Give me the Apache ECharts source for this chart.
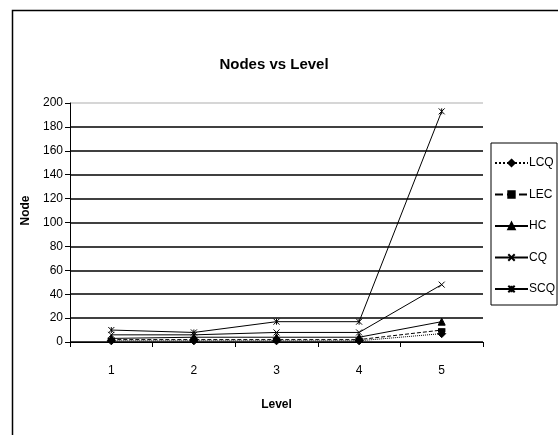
<!DOCTYPE html>
<html>
<head>
<meta charset="utf-8">
<script src="https://cdn.jsdelivr.net/npm/echarts@6/dist/echarts.min.js"></script>
<style>
  html, body { margin: 0; padding: 0; background: #fff; }
  #chart { width: 558px; height: 435px; }
</style>
</head>
<body>
<div id="chart"></div>
<script>
const levels = ['1', '2', '3', '4', '5'];
const lcq = [1, 1, 1, 1, 7];
const lec = [2, 2, 2, 2, 10];
const hc = [3, 4, 4, 4, 17];
const cq = [6, 6, 8, 8, 48];
const scq = [10, 8, 17, 17, 193];

const font = '"Liberation Sans", Arial, sans-serif';
const crossPath = 'path://M0,0L10,10M10,0L0,10';
const starPath = 'path://M0,0L10,10M10,0L0,10M5,0L5,10';

function mkSeries(name, data, symbol, size, lineType) {
  return {
    name: name,
    type: 'line',
    data: data,
    symbol: symbol,
    symbolSize: size,
    showAllSymbol: true,
    lineStyle: { color: '#000', width: 1, type: lineType },
    itemStyle: { color: '#000', borderColor: '#000', borderWidth: 1 },
    emphasis: { disabled: true },
    animation: false
  };
}

let chart = echarts.init(document.getElementById('chart'));

let splitColors = [];
for (let i = 0; i < 10; i++) splitColors.push('#000');
splitColors.push('#c8c8c8');

chart.setOption({
  backgroundColor: '#fff',
  animation: false,
  title: {
    text: 'Nodes vs Level',
    left: 269,
    top: 52,
    textAlign: 'center',
    textStyle: { fontFamily: font, fontWeight: 'bold', fontSize: 15, color: '#000' }
  },
  graphic: [{
    type: 'rect',
    shape: { x: 12.5, y: 10.5, width: 560, height: 440 },
    style: { fill: 'none', stroke: '#000', lineWidth: 1.5 },
    silent: true,
    z: -1
  }],
  legend: {
    orient: 'vertical',
    left: 491,
    top: 143,
    width: 67,
    height: 159,
    padding: [14, 2, 10, 3],
    itemGap: 19.5,
    itemWidth: 33,
    itemHeight: 8,
    borderColor: '#000',
    borderWidth: 1,
    textStyle: { fontFamily: font, fontSize: 12, color: '#000', padding: [0, 0, 0, -4] },
    data: ['LCQ', 'LEC', 'HC', 'CQ', 'SCQ']
  },
  grid: { left: 70, right: 75, top: 103, bottom: 93 },
  xAxis: {
    type: 'category',
    data: levels,
    boundaryGap: true,
    name: 'Level',
    nameLocation: 'middle',
    nameGap: 57,
    nameTextStyle: { fontFamily: font, fontWeight: 'bold', fontSize: 12, color: '#000' },
    axisLine: { lineStyle: { color: '#000', width: 1 } },
    axisTick: { show: true, length: 5, lineStyle: { color: '#000' } },
    axisLabel: { fontFamily: font, fontSize: 12, color: '#000', margin: 23 },
    splitLine: { show: false }
  },
  yAxis: {
    type: 'value',
    min: 0,
    max: 200,
    interval: 20,
    name: 'Node',
    nameLocation: 'middle',
    nameGap: 32,
    nameTextStyle: { fontFamily: font, fontWeight: 'bold', fontSize: 12, color: '#000', padding: [0, 0, 0, 24] },
    axisLine: { show: true, lineStyle: { color: '#000', width: 1 } },
    axisTick: { show: true, length: 5, lineStyle: { color: '#000' } },
    axisLabel: { fontFamily: font, fontSize: 12, color: '#000', margin: 7 },
    splitLine: { show: true, lineStyle: { color: splitColors, width: 1.5 } }
  },
  series: [
    mkSeries('LCQ', lcq, 'diamond', 8, 'dotted'),
    mkSeries('LEC', lec, 'rect', [6, 3], 'dashed'),
    mkSeries('HC', hc, 'triangle', 7, 'solid'),
    mkSeries('CQ', cq, crossPath, 6, 'solid'),
    mkSeries('SCQ', scq, starPath, 6, 'solid')
  ]
});
</script>
</body>
</html>
